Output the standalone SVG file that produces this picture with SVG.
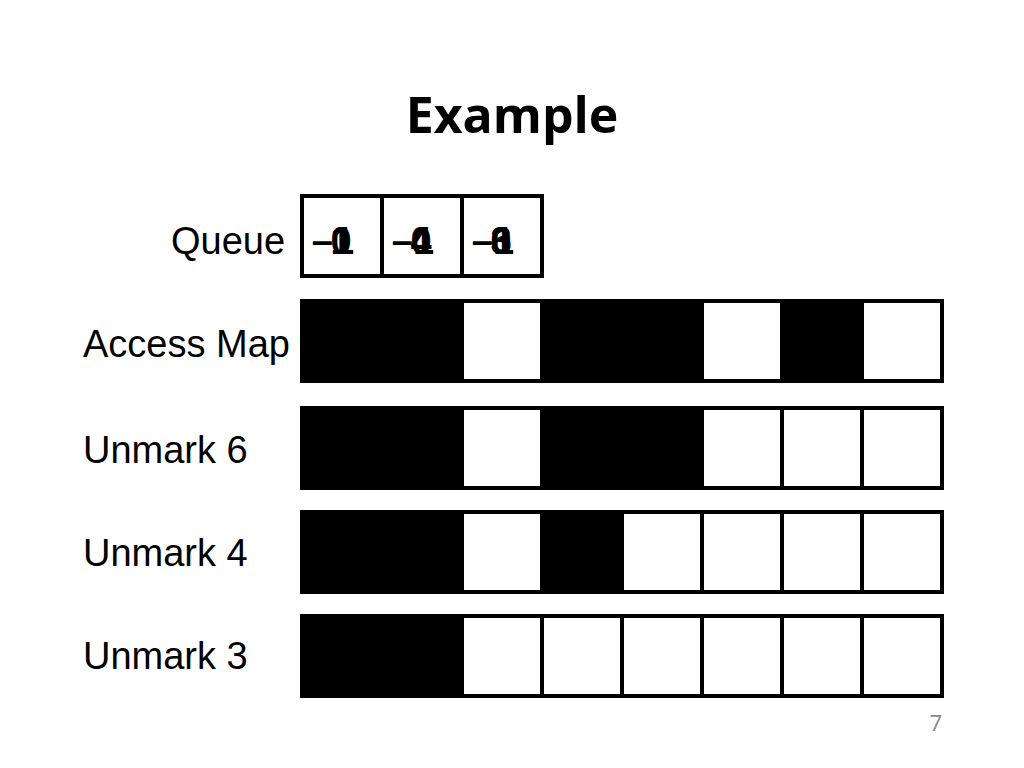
<svg xmlns="http://www.w3.org/2000/svg" width="1024" height="768" viewBox="0 0 1024 768">
<style>
.l{font-family:"Liberation Sans",Arial,sans-serif;font-size:38px;fill:#000}
.q{font-family:"Liberation Sans",Arial,sans-serif;font-size:38px;font-weight:bold;fill:#000;text-anchor:middle}
.w{fill:#fff;stroke:#000;stroke-width:4}
.b{fill:#000;stroke:#000;stroke-width:4}
</style>
<rect width="1024" height="768" fill="#fff"/>
<text x="512" y="133" text-anchor="middle" font-family="Open Sans, sans-serif" font-weight="bold" font-size="50">Example</text>
<text x="171" y="254" class="l">Queue</text>
<text x="83" y="357" class="l">Access Map</text>
<text x="83" y="463" class="l">Unmark 6</text>
<text x="83" y="566" class="l">Unmark 4</text>
<text x="83" y="669" class="l">Unmark 3</text>
<g id="queue">
<rect class="w" x="302" y="196" width="80" height="80"/><rect class="w" x="382" y="196" width="80" height="80"/><rect class="w" x="462" y="196" width="80" height="80"/>
<text class="q" x="333" y="254">–1</text><text class="q" x="341" y="254">0</text><text class="q" x="341" y="254">1</text>
<text class="q" x="413" y="254">–1</text><text class="q" x="421" y="254">0</text><text class="q" x="421" y="254">4</text>
<text class="q" x="493" y="254">–1</text><text class="q" x="501" y="254">0</text><text class="q" x="501" y="254">6</text><text class="q" x="501" y="254">3</text>
</g>
<g id="access">
<rect class="b" x="302" y="301" width="80" height="80"/><rect class="b" x="382" y="301" width="80" height="80"/><rect class="w" x="462" y="301" width="80" height="80"/><rect class="b" x="542" y="301" width="80" height="80"/><rect class="b" x="622" y="301" width="80" height="80"/><rect class="w" x="702" y="301" width="80" height="80"/><rect class="b" x="782" y="301" width="80" height="80"/><rect class="w" x="862" y="301" width="80" height="80"/>
</g>
<g id="u6">
<rect class="b" x="302" y="408" width="80" height="80"/><rect class="b" x="382" y="408" width="80" height="80"/><rect class="w" x="462" y="408" width="80" height="80"/><rect class="b" x="542" y="408" width="80" height="80"/><rect class="b" x="622" y="408" width="80" height="80"/><rect class="w" x="702" y="408" width="80" height="80"/><rect class="w" x="782" y="408" width="80" height="80"/><rect class="w" x="862" y="408" width="80" height="80"/>
</g>
<g id="u4">
<rect class="b" x="302" y="512" width="80" height="80"/><rect class="b" x="382" y="512" width="80" height="80"/><rect class="w" x="462" y="512" width="80" height="80"/><rect class="b" x="542" y="512" width="80" height="80"/><rect class="w" x="622" y="512" width="80" height="80"/><rect class="w" x="702" y="512" width="80" height="80"/><rect class="w" x="782" y="512" width="80" height="80"/><rect class="w" x="862" y="512" width="80" height="80"/>
</g>
<g id="u3">
<rect class="b" x="302" y="616" width="80" height="80"/><rect class="b" x="382" y="616" width="80" height="80"/><rect class="w" x="462" y="616" width="80" height="80"/><rect class="w" x="542" y="616" width="80" height="80"/><rect class="w" x="622" y="616" width="80" height="80"/><rect class="w" x="702" y="616" width="80" height="80"/><rect class="w" x="782" y="616" width="80" height="80"/><rect class="w" x="862" y="616" width="80" height="80"/>
</g>
<g id="connectors"/>
<text x="942" y="731" text-anchor="end" font-family="Open Sans, sans-serif" font-size="22" fill="#888">7</text>
</svg>
